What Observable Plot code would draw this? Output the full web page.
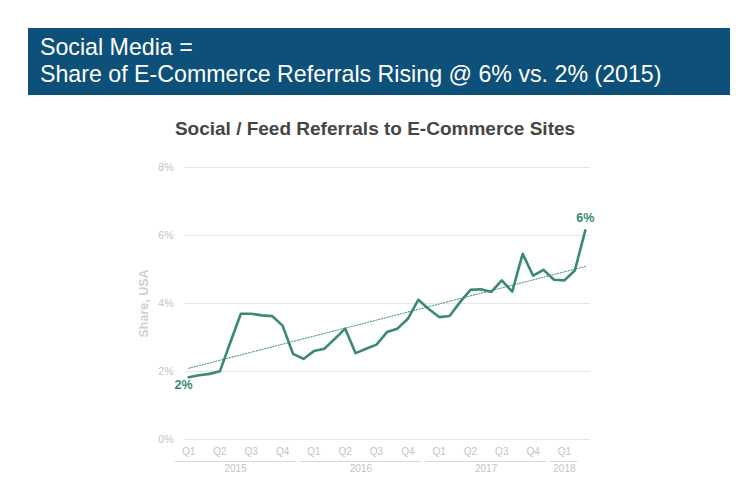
<!DOCTYPE html>
<html>
<head>
<meta charset="utf-8">
<script src="https://cdn.jsdelivr.net/npm/d3@7"></script>
<script src="https://cdn.jsdelivr.net/npm/@observablehq/plot@0.6"></script>
<style>
  html, body { margin: 0; padding: 0; background: #fff; }
  body { width: 756px; height: 499px; position: relative; overflow: hidden; font-family: "Liberation Sans", Arial, sans-serif; }
  #banner { position: absolute; left: 28px; top: 28px; width: 702px; height: 67px; background: #0d5079; color: #fff; box-sizing: border-box; padding: 6px 0 0 12px; font-size: 23.2px; line-height: 27px; }
  #title { position: absolute; left: 0; top: 118px; width: 750px; text-align: center; font-size: 19px; font-weight: bold; color: #454545; }
  #chart { position: absolute; left: 0; top: 150px; }
</style>
</head>
<body>
<div id="banner">Social Media =<br>Share of E-Commerce Referrals Rising @ 6% vs. 2% (2015)</div>
<div id="title">Social / Feed Referrals to E-Commerce Sites</div>
<div id="chart"></div>
<script>
// Monthly share of e-commerce referrals from social / feed (USA), Jan 2015 – Mar 2018, in %
const share = [
  1.83, 1.89, 1.93, 2.01, 2.86, 3.70, 3.70, 3.65, 3.63, 3.35, 2.52, 2.37,
  2.60, 2.67, 2.96, 3.26, 2.54, 2.67, 2.79, 3.16, 3.26, 3.55, 4.11, 3.84,
  3.60, 3.63, 4.04, 4.40, 4.42, 4.34, 4.68, 4.35, 5.46, 4.82, 4.99, 4.70,
  4.68, 4.97, 6.15
];
const startYear = 2015;
const yTicks = [0, 2, 4, 6, 8];
const quarterNames = ["Q1", "Q2", "Q3", "Q4"];
const endLabels = ["2%", "6%"];

const data = share.map((v, i) => ({i, v, year: startYear + Math.floor(i / 12), month: i % 12}));
const quarters = data.filter(d => d.month % 3 === 0).map(d => ({i: d.i, year: d.year, label: quarterNames[d.month / 3]}));
const years = d3.groups(quarters, d => d.year).map(([year, qs]) => ({
  year: String(year),
  first: qs[0].i,
  last: qs[qs.length - 1].i
}));
const ends = [
  {i: data[0].i, v: data[0].v, label: endLabels[0]},
  {i: data[data.length - 1].i, v: data[data.length - 1].v, label: endLabels[1]}
];

const green = "#3a8a70";
const light = "#c4c4c4";

const chart = Plot.plot({
  width: 756,
  height: 334,
  marginLeft: 185,
  marginRight: 166,
  marginTop: 17,
  marginBottom: 45,
  style: {fontFamily: "Liberation Sans, Arial, sans-serif", background: "transparent"},
  x: {type: "linear", domain: [-0.3, 38.5], axis: null},
  y: {domain: [0, 8], axis: null},
  marks: [
    Plot.gridY(yTicks, {stroke: "#e6e6e6", strokeOpacity: 1, strokeWidth: 1}),
    Plot.axisY(yTicks, {tickSize: 0, tickPadding: 12, tickFormat: d => d + "%", fill: light, fontSize: 10.5, label: null}),
    Plot.text(["Share, USA"], {frameAnchor: "left", textAnchor: "middle", rotate: -90, dx: -42, fill: "#cfcfcf", fontWeight: "bold", fontSize: 12.5}),
    Plot.linearRegressionY(data, {x: "i", y: "v", ci: 0, stroke: "#4f9b80", strokeWidth: 1.1, strokeDasharray: "1.2,1.6"}),
    Plot.line(data, {x: "i", y: "v", stroke: green, strokeWidth: 2.6, strokeLinejoin: "round"}),
    Plot.text(ends.slice(0, 1), {x: "i", y: "v", text: "label", dx: -5, dy: 8, fill: green, fontWeight: "bold", fontSize: 12.5}),
    Plot.text(ends.slice(1), {x: "i", y: "v", text: "label", dy: -12, fill: green, fontWeight: "bold", fontSize: 12.5}),
    Plot.text(quarters, {x: "i", y: () => 0, text: "label", dy: 12, fill: light, fontSize: 10}),
    Plot.ruleY(years, {y: () => 0, x1: d => d.first - 1.3, x2: d => d.last + 1.3, dy: 22, stroke: "#d8d8d8", strokeWidth: 1}),
    Plot.text(years, {x: d => (d.first + d.last) / 2, y: () => 0, text: "year", dy: 29.5, fill: light, fontSize: 10})
  ]
});
document.getElementById("chart").appendChild(chart);
</script>
</body>
</html>
